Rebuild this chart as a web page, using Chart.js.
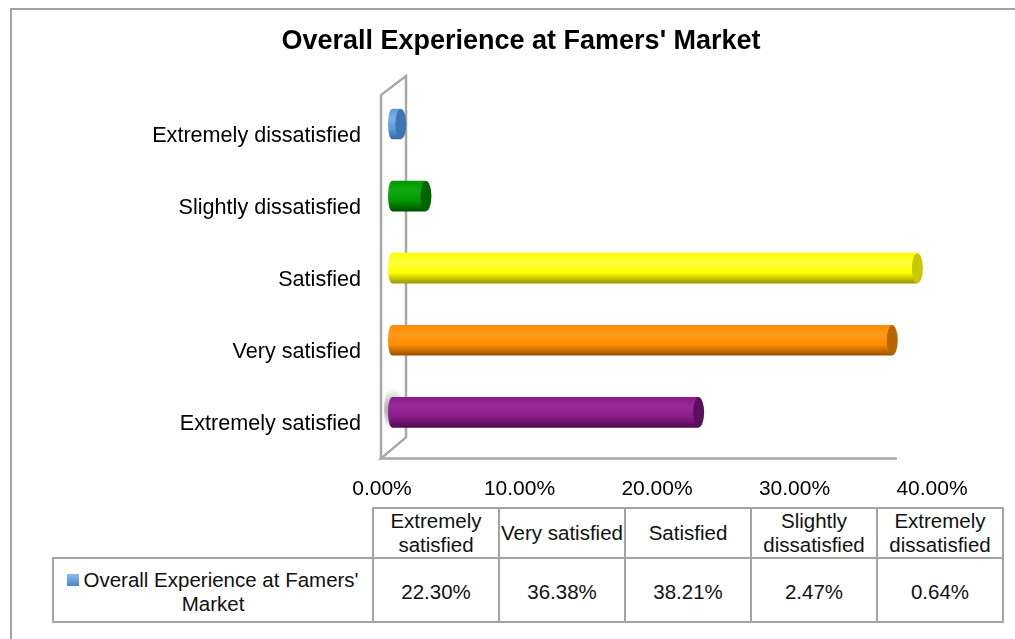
<!DOCTYPE html>
<html>
<head>
<meta charset="utf-8">
<script src="https://cdn.jsdelivr.net/npm/chart.js@4"></script>
<style>
  body { margin: 0; background: #fff; font-family: "Liberation Sans", Arial, Helvetica, sans-serif; }
  #frame { position: absolute; left: 10px; top: 8px; width: 1100px; height: 700px;
           border-left: 2px solid #a3a3a3; border-top: 2px solid #a3a3a3; }
  #wrap { position: absolute; left: 0; top: 0; width: 1015px; height: 505px; }
  #tabela { position: absolute; left: 52px; top: 507px; border-collapse: collapse;
            table-layout: fixed; font-size: 20.5px; color: #111; }
  #tabela td { border: 2px solid #a3a3a3; text-align: center; padding: 0; line-height: 24px; }
  #tabela tr.cab td { height: 47px; }
  #tabela tr.val td { height: 59px; padding-top: 3px; }
  #tabela td.vazio { border: none; }
  .chave { display: inline-block; width: 12px; height: 12px; margin-right: 4px; vertical-align: 1px;
           background: linear-gradient(#8fbcee, #4a86cf); }
</style>
</head>
<body>
<div id="frame"></div>
<div id="wrap"><canvas id="grafico" width="1015" height="505"></canvas></div>
<table id="tabela">
  <colgroup><col style="width:320px"><col style="width:126px"><col style="width:126px"><col style="width:126px"><col style="width:126px"><col style="width:126px"></colgroup>
  <tr class="cab"><td class="vazio"></td></tr>
  <tr class="val"><td id="serie"></td></tr>
</table>
<script>
// dados
const categorias = ["Extremely satisfied", "Very satisfied", "Satisfied", "Slightly dissatisfied", "Extremely dissatisfied"];
const valores = [22.30, 36.38, 38.21, 2.47, 0.64];
const nomeSerie = "Overall Experience at Famers' Market";
const ticksX = [0, 10, 20, 30, 40];
const rotulosX = ["0.00%", "10.00%", "20.00%", "30.00%", "40.00%"];

const coresBarra = ["#8c1c8c", "#ff8c00", "#ffff00", "#009a00", "#5c9ddb"];
const coresClaras = ["#9a2a9a", "#ff9a1a", "#ffff40", "#10aa10", "#7ab2e6"];
const coresEscuras = ["#4e0c4e", "#9a5200", "#9a9a00", "#005000", "#3466a8"];
const coresTampa = ["#5c0f5c", "#b86400", "#c8c800", "#006400", "#3f74b4"];

const ESPESSURA = 30;

// cilindro: gradiente vertical no corpo
function gradienteBarra(c) {
  const { ctx, chartArea, scales } = c.chart;
  const i = c.dataIndex;
  if (!chartArea) return coresBarra[i];
  const y = scales.y.getPixelForValue(i);
  const g = ctx.createLinearGradient(0, y - ESPESSURA / 2, 0, y + ESPESSURA / 2);
  g.addColorStop(0, coresBarra[i]);
  g.addColorStop(0.3, coresClaras[i]);
  g.addColorStop(0.65, coresBarra[i]);
  g.addColorStop(1, coresEscuras[i]);
  return g;
}

// parede 3D à esquerda e piso
const parede = {
  id: "parede",
  beforeDatasetsDraw(chart) {
    const { ctx, chartArea: a } = chart;
    const fx = a.left - 11, bx = a.left + 14;
    ctx.save();
    ctx.strokeStyle = "#a8a8a8";
    ctx.lineWidth = 2.5;
    ctx.beginPath();
    ctx.moveTo(fx, a.bottom + 10);
    ctx.lineTo(fx, a.top + 7);
    ctx.lineTo(bx, a.top - 12);
    ctx.lineTo(bx, a.bottom - 11);
    ctx.lineTo(fx, a.bottom + 10);
    ctx.lineTo(a.right - 45, a.bottom + 10);
    ctx.stroke();
    // sombra suave junto à parede na barra de baixo
    const y0 = chart.scales.y.getPixelForValue(0);
    const s = ctx.createRadialGradient(fx + 12, y0 - 3, 1, fx + 12, y0 - 3, 20);
    s.addColorStop(0, "rgba(110,110,110,0.7)");
    s.addColorStop(1, "rgba(110,110,110,0)");
    ctx.fillStyle = s;
    ctx.beginPath();
    ctx.ellipse(fx + 12, y0 - 3, 9, 24, 0, 0, Math.PI * 2);
    ctx.fill();
    ctx.restore();
  }
};

// tampas dos cilindros
const tampas = {
  id: "tampas",
  afterDatasetsDraw(chart) {
    const { ctx } = chart;
    const meta = chart.getDatasetMeta(0);
    ctx.save();
    meta.data.forEach((el, i) => {
      const h = ESPESSURA / 2;
      // ponta esquerda arredondada
      const g = ctx.createLinearGradient(0, el.y - h, 0, el.y + h);
      g.addColorStop(0, coresBarra[i]);
      g.addColorStop(0.3, coresClaras[i]);
      g.addColorStop(0.65, coresBarra[i]);
      g.addColorStop(1, coresEscuras[i]);
      ctx.fillStyle = g;
      ctx.beginPath();
      ctx.ellipse(el.base, el.y, 4, h, 0, Math.PI / 2, Math.PI * 1.5);
      ctx.fill();
      // tampa direita
      ctx.fillStyle = coresTampa[i];
      ctx.beginPath();
      ctx.ellipse(el.x, el.y, 5.5, h, 0, 0, Math.PI * 2);
      ctx.fill();
    });
    ctx.restore();
  }
};

const fonte = { family: "'Liberation Sans', Arial, Helvetica, sans-serif", size: 21 };

new Chart(document.getElementById("grafico"), {
  type: "bar",
  data: {
    labels: categorias,
    datasets: [{
      label: nomeSerie,
      data: valores,
      backgroundColor: gradienteBarra,
      borderWidth: 0,
      barThickness: ESPESSURA
    }]
  },
  options: {
    indexAxis: "y",
    responsive: false,
    animation: false,
    layout: { padding: { left: 100, right: 73, bottom: 0 } },
    plugins: {
      legend: { display: false },
      tooltip: { enabled: false },
      title: {
        display: true,
        text: "Overall Experience at Famers' Market",
        color: "#000",
        font: { family: fonte.family, size: 27, weight: "bold" },
        padding: { top: 25, bottom: 30.6 }
      }
    },
    scales: {
      x: {
        min: 0,
        max: 40,
        grid: { display: false },
        border: { display: false },
        afterBuildTicks: s => { s.ticks = ticksX.map(v => ({ value: v })); },
        afterFit: s => { s.height = 505 - 448 - 0.4; },
        ticks: {
          color: "#000",
          font: fonte,
          padding: 20,
          labelOffset: -10,
          maxRotation: 0,
          callback: (v, i) => rotulosX[i]
        }
      },
      y: {
        reverse: true,
        grid: { display: false },
        border: { display: false },
        afterFit: s => { s.width = 292; },
        ticks: {
          color: "#000",
          font: { family: fonte.family, size: 21.6 },
          padding: 23,
          labelOffset: 12,
          callback: (v, i) => categorias[i]
        }
      }
    }
  },
  plugins: [parede, tampas]
});

// tabela de dados
const cab = document.querySelector("#tabela tr.cab");
const val = document.querySelector("#tabela tr.val");
document.getElementById("serie").innerHTML = '<span class="chave"></span>' + nomeSerie;
categorias.forEach((c, i) => {
  const th = document.createElement("td");
  th.textContent = c;
  cab.appendChild(th);
  const td = document.createElement("td");
  td.textContent = valores[i].toFixed(2) + "%";
  val.appendChild(td);
});
</script>
</body>
</html>
